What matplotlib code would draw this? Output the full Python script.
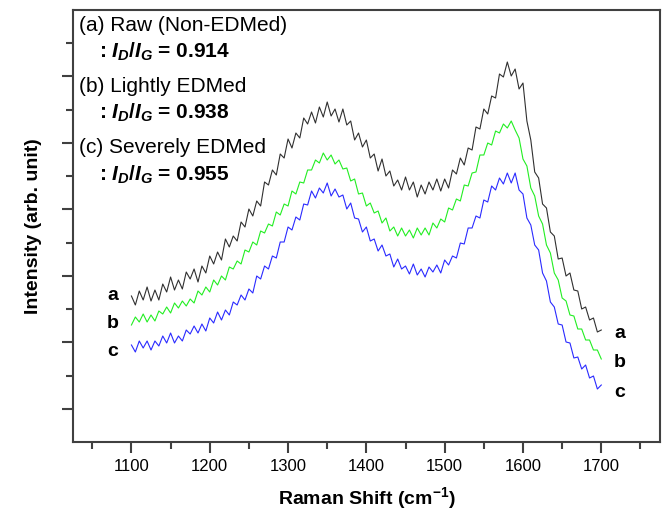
import numpy as np
import matplotlib
matplotlib.use("Agg")
import matplotlib.pyplot as plt
from matplotlib.ticker import FixedLocator

plt.rcParams['font.family'] = ['Liberation Sans', 'DejaVu Sans']
plt.rcParams['mathtext.fontset'] = 'custom'
plt.rcParams['mathtext.rm'] = 'Liberation Sans:bold'
plt.rcParams['mathtext.it'] = 'Liberation Sans:bold:italic'
plt.rcParams['mathtext.bf'] = 'Liberation Sans:bold'

# Raman shift, cm-1 (5 cm-1 step)
shift = np.arange(1100, 1701, 5)

# (a) raw, non-EDMed
raw = [146, 137, 151, 142, 155, 141, 152, 142, 158, 150, 165, 152, 162, 153, 170, 163,
       173, 160, 176, 169, 186, 178, 190, 182, 203, 195, 206, 201, 220, 215, 233, 226,
       241, 236, 260, 257, 272, 267, 288, 284, 303, 294, 309, 304, 324, 318, 330, 319,
       335, 325, 340, 326, 333, 320, 333, 317, 321, 302, 309, 295, 302, 284, 288, 271,
       283, 266, 271, 256, 262, 252, 265, 252, 260, 245, 257, 248, 260, 252, 263, 251,
       263, 254, 272, 268, 284, 277, 294, 292, 315, 313, 333, 328, 346, 344, 368, 365,
       380, 366, 373, 353, 359, 321, 302, 270, 264, 238, 234, 210, 206, 183, 184, 166,
       169, 152, 151, 133, 135, 122, 124, 110, 112]

# (b) lightly EDMed
light = [117, 125, 120, 128, 120, 127, 121, 131, 128, 135, 129, 139, 134, 141, 136, 143,
         139, 151, 147, 155, 150, 162, 157, 166, 162, 175, 173, 181, 178, 192, 190, 200,
         197, 211, 209, 218, 216, 230, 227, 238, 236, 251, 248, 260, 259, 272, 272, 282,
         279, 289, 282, 287, 278, 282, 273, 274, 261, 263, 248, 249, 236, 239, 229, 231,
         219, 224, 211, 215, 206, 214, 206, 212, 204, 214, 207, 214, 207, 219, 214, 223,
         220, 234, 232, 243, 241, 257, 256, 269, 270, 287, 287, 299, 297, 311, 309, 318,
         314, 321, 312, 304, 283, 276, 254, 246, 226, 218, 197, 189, 169, 162, 144, 141,
         127, 126, 113, 113, 102, 102, 92, 92, 83]

# (c) severely EDMed
severe = [97, 90, 101, 94, 101, 92, 101, 96, 106, 99, 109, 99, 106, 101, 112, 108,
          116, 109, 118, 111, 124, 119, 130, 122, 132, 127, 140, 137, 147, 142, 153, 149,
          166, 163, 176, 173, 186, 184, 200, 200, 215, 212, 225, 222, 238, 237, 251, 244,
          254, 249, 259, 246, 253, 245, 247, 233, 239, 224, 223, 210, 215, 201, 203, 191,
          197, 186, 188, 175, 183, 173, 176, 168, 178, 167, 173, 165, 175, 170, 177, 169,
          182, 177, 186, 184, 199, 198, 214, 214, 226, 224, 242, 240, 256, 252, 264, 258,
          269, 259, 269, 252, 248, 224, 217, 197, 192, 169, 161, 140, 135, 118, 117, 100,
          99, 84, 85, 73, 77, 64, 66, 53, 57]

fig = plt.figure(figsize=(6.64, 5.13), dpi=100)
ax = fig.add_axes([0.1095, 0.1384, 0.8845, 0.8421])

ax.plot(shift, raw, color='#303030', lw=0.8)
ax.plot(shift, light, color='#22ee22', lw=0.8)
ax.plot(shift, severe, color='#2a2aff', lw=0.8)

ax.set_xlim(1025, 1775)
ax.set_ylim(0, 432)
ax.set_xticks(np.arange(1100, 1701, 100))
ax.xaxis.set_minor_locator(FixedLocator(np.arange(1050, 1751, 100)))
step = 432 / 13
ax.yaxis.set_major_locator(FixedLocator([step * k for k in (1, 3, 5, 7, 9, 11)]))
ax.yaxis.set_minor_locator(FixedLocator([step * k for k in (2, 4, 6, 8, 10, 12)]))
ax.set_yticklabels([])

for s in ax.spines.values():
    s.set_color('#404040')
    s.set_linewidth(1.5)
ax.tick_params(which='major', direction='out', length=8, width=1.5, color='#404040',
               labelsize=12, pad=4)
ax.tick_params(which='minor', direction='out', length=5, width=1.5, color='#404040')

ax.set_xlabel('Raman Shift (cm$^{-1}$)', fontsize=14, fontweight='bold', labelpad=8)
ax.set_ylabel('Intensity (arb. unit)', fontsize=14, fontweight='bold', labelpad=10)

# sample descriptions
notes = ['(a) Raw (Non-EDMed)', '(b) Lightly EDMed', '(c) Severely EDMed']
ratios = ['0.914', '0.938', '0.955']
for i, (n, r) in enumerate(zip(notes, ratios)):
    y0 = 0.965 - i * 0.142
    ax.text(0.01, y0, n, transform=ax.transAxes, fontsize=15, va='center', ha='left')
    ax.text(0.045, y0 - 0.062, ': $I_D/I_G$ = ' + r, transform=ax.transAxes,
            fontsize=15, fontweight='bold', va='center', ha='left')

# curve tags
for t, yl, yr in zip(['a', 'b', 'c'], [147, 119, 91], [109, 80, 50]):
    ax.text(1076, yl, t, fontsize=14, fontweight='bold', ha='center', va='center')
    ax.text(1724, yr, t, fontsize=14, fontweight='bold', ha='center', va='center')

fig.savefig('out.png', dpi=100)
